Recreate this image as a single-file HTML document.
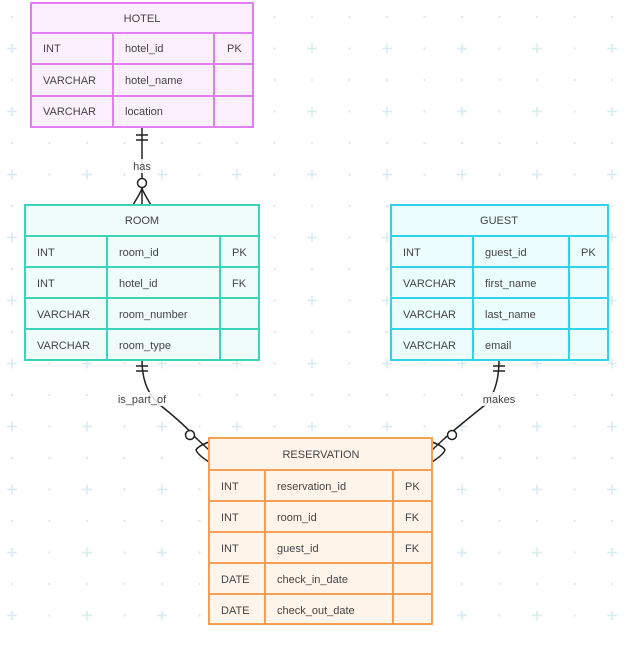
<!DOCTYPE html>
<html><head><style>
body{margin:0;width:640px;height:640px;background:#fff;overflow:hidden;font-family:"Liberation Sans",sans-serif;}
svg text{font-family:"Liberation Sans",sans-serif;font-size:11px;fill:#444;}
</style></head><body>
<svg width="640" height="640" xmlns="http://www.w3.org/2000/svg">
<defs>
<pattern id="g" x="-25.5" y="1" width="75" height="63" patternUnits="userSpaceOnUse">
<circle cx="37.5" cy="16" r="1.2" fill="#dfe8ea"/>
<circle cx="75" cy="16" r="1.2" fill="#dfe8ea"/>
<circle cx="0" cy="16" r="1.2" fill="#dfe8ea"/>
<circle cx="75" cy="47.5" r="1.2" fill="#dfe8ea"/>
<circle cx="0" cy="47.5" r="1.2" fill="#dfe8ea"/>
<path d="M37.5 42.5v10M32.5 47.5h10" stroke="#d6ecef" stroke-width="1.5"/>
</pattern>
</defs>
<rect width="640" height="640" fill="url(#g)"/>
<g fill="none" stroke="#222" stroke-width="1.5">
<path d="M142 127V205"/>
<path d="M136 135h12M136 140h12"/>
<circle cx="142" cy="183" r="4.5" fill="#fff"/>
<path d="M133 205Q142 190 142 188Q142 190 151 205"/>
<path d="M142 360Q142 390 160 405Q185 425 196 438L209 450"/>
<path d="M136 366h12M136 371h12"/>
<circle cx="190" cy="435" r="4.5" fill="#fff"/>
<path d="M209 442Q198 446 196 450Q198 455 209 462"/>
<path d="M499 360Q499 390 485 405Q460 425 445 438L432 450"/>
<path d="M493 366h12M493 371h12"/>
<circle cx="452" cy="435" r="4.5" fill="#fff"/>
<path d="M432 442Q443 446 445 450Q443 455 432 462"/>
</g>
<rect x="127" y="159" width="30" height="14" fill="#fff" opacity=".85"/>
<text x="142" y="170" text-anchor="middle">has</text>
<rect x="105" y="392" width="75" height="14" fill="#fff" opacity=".85"/>
<text x="142" y="403" text-anchor="middle">is_part_of</text>
<rect x="476" y="392" width="46" height="14" fill="#fff" opacity=".85"/>
<text x="499" y="403" text-anchor="middle">makes</text>

<!-- HOTEL -->
<g stroke="#e17ff2" stroke-width="2" fill="#fdf0fe">
<rect x="31" y="3" width="222" height="124"/>
<path d="M31 33H253M31 64H253M31 96H253M113 33V127M214 33V127" fill="none"/>
</g>
<text x="142" y="22" text-anchor="middle">HOTEL</text>
<text x="43" y="52">INT</text><text x="125" y="52">hotel_id</text><text x="227" y="52">PK</text>
<text x="43" y="84">VARCHAR</text><text x="125" y="84">hotel_name</text>
<text x="43" y="115">VARCHAR</text><text x="125" y="115">location</text>

<!-- ROOM -->
<g stroke="#3bd4b8" stroke-width="2" fill="#effcf9">
<rect x="25" y="205" width="234" height="155"/>
<path d="M25 236H259M25 267H259M25 298H259M25 329H259M107 236V360M220 236V360" fill="none"/>
</g>
<text x="142" y="224" text-anchor="middle">ROOM</text>
<text x="37" y="256">INT</text><text x="119" y="256">room_id</text><text x="232" y="256">PK</text>
<text x="37" y="287">INT</text><text x="119" y="287">hotel_id</text><text x="232" y="287">FK</text>
<text x="37" y="318">VARCHAR</text><text x="119" y="318">room_number</text>
<text x="37" y="349">VARCHAR</text><text x="119" y="349">room_type</text>

<!-- GUEST -->
<g stroke="#2fd3ea" stroke-width="2" fill="#ecfdff">
<rect x="391" y="205" width="217" height="155"/>
<path d="M391 236H608M391 267H608M391 298H608M391 329H608M473 236V360M569 236V360" fill="none"/>
</g>
<text x="499" y="224" text-anchor="middle">GUEST</text>
<text x="403" y="256">INT</text><text x="485" y="256">guest_id</text><text x="581" y="256">PK</text>
<text x="403" y="287">VARCHAR</text><text x="485" y="287">first_name</text>
<text x="403" y="318">VARCHAR</text><text x="485" y="318">last_name</text>
<text x="403" y="349">VARCHAR</text><text x="485" y="349">email</text>

<!-- RESERVATION -->
<g stroke="#f7a055" stroke-width="2" fill="#fff5ea">
<rect x="209" y="438" width="223" height="186"/>
<path d="M209 470H432M209 501H432M209 532H432M209 563H432M209 594H432M265 470V624M393 470V624" fill="none"/>
</g>
<text x="321" y="458" text-anchor="middle">RESERVATION</text>
<text x="221" y="490">INT</text><text x="277" y="490">reservation_id</text><text x="405" y="490">PK</text>
<text x="221" y="521">INT</text><text x="277" y="521">room_id</text><text x="405" y="521">FK</text>
<text x="221" y="552">INT</text><text x="277" y="552">guest_id</text><text x="405" y="552">FK</text>
<text x="221" y="583">DATE</text><text x="277" y="583">check_in_date</text>
<text x="221" y="614">DATE</text><text x="277" y="614">check_out_date</text>
</svg>
</body></html>
